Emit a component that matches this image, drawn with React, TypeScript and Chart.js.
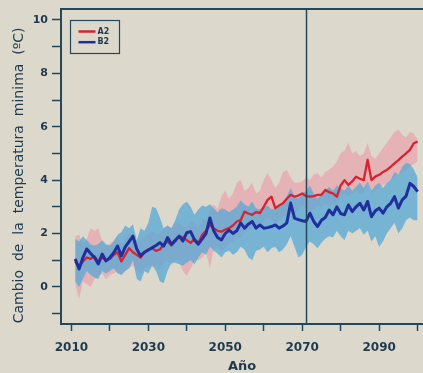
import React, { useEffect, useRef } from 'react';
import { Chart, registerables } from 'chart.js';

Chart.register(...registerables);

// ---- data ----
const YEARS: number[] = Array.from({ length: 90 }, (_, i) => 2011 + i);

const A2_MEAN = [
  0.95, 0.75, 0.95, 1.1, 1.05, 1.15, 0.95, 1.1, 1.0, 1.05,
  1.2, 1.3, 0.95, 1.2, 1.45, 1.3, 1.2, 1.1, 1.3, 1.4,
  1.45, 1.35, 1.4, 1.6, 1.7, 1.55, 1.7, 1.9, 1.85, 1.75,
  1.65, 1.8, 1.64, 1.95, 2.1, 2.32, 2.2, 2.1, 2.07, 2.15,
  2.2, 2.3, 2.45, 2.5, 2.82, 2.75, 2.7, 2.8, 2.76, 3.0,
  3.26, 3.38, 2.95, 3.05, 3.13, 3.3, 3.45, 3.38, 3.42, 3.5,
  3.4, 3.38, 3.4, 3.45, 3.45, 3.63, 3.55, 3.5, 3.38, 3.8,
  4.0, 3.82, 3.95, 4.13, 4.05, 4.0, 4.76, 4.0, 4.13, 4.2,
  4.3, 4.38, 4.5, 4.63, 4.75, 4.88, 5.0, 5.13, 5.38, 5.44,
];
const A2_HIGH = [
  1.9, 1.95, 1.6, 1.8, 2.2, 2.1, 2.2, 1.7, 1.55, 1.6,
  1.75, 1.9, 1.6, 1.8, 2.0, 1.9, 1.7, 1.75, 1.9, 2.0,
  2.1, 1.95, 2.0, 2.2, 2.3, 2.2, 2.4, 2.4, 2.3, 2.2,
  2.5, 2.4, 2.2, 2.6, 2.5, 2.9, 3.1, 2.9, 3.4, 3.6,
  3.3, 3.5, 3.9, 4.0, 3.6, 3.7, 3.9, 3.5, 3.6, 4.0,
  4.26, 4.0, 3.7, 3.9, 4.3, 4.38, 4.1, 3.9, 3.9, 3.95,
  4.1, 4.0, 4.2, 4.26, 4.1, 4.3, 4.4, 4.5, 4.7, 5.0,
  5.1, 5.4, 5.0, 5.1, 4.9, 5.0, 5.4, 4.9, 4.8, 5.0,
  5.2, 5.4, 5.6, 5.8, 5.9, 5.7, 5.6, 5.8, 5.75, 5.5,
];
const A2_LOW = [
  0.1, -0.45, 0.2, 0.1, 0.0, 0.3, 0.4, 0.5, 0.3, 0.45,
  0.5, 0.6, 0.45, 0.6, 0.7, 0.8, 0.6, 0.5, 0.7, 0.8,
  0.75, 0.8, 0.6, 0.9, 1.0, 0.8, 1.0, 0.9, 0.6, 0.4,
  0.7, 1.0, 1.0, 1.1, 1.3, 0.7, 1.4, 1.5, 1.3, 1.5,
  1.6, 1.7, 1.9, 1.8, 2.0, 2.1, 2.2, 2.3, 2.2, 2.4,
  2.6, 2.5, 2.3, 2.5, 2.6, 2.7, 2.8, 2.7, 2.9, 3.0,
  2.9, 2.8, 2.9, 3.0, 3.0, 3.1, 3.0, 3.1, 3.0, 3.4,
  3.5, 3.4, 3.5, 3.6, 3.5, 3.5, 3.9, 3.5, 3.6, 3.7,
  3.8, 3.9, 4.0, 4.1, 4.2, 4.3, 4.4, 4.5, 4.6, 4.7,
];

const B2_MEAN = [
  1.05, 0.67, 1.1, 1.42, 1.25, 1.1, 0.86, 1.23, 0.97, 1.1,
  1.28, 1.53, 1.16, 1.5, 1.7, 1.9, 1.42, 1.16, 1.3, 1.38,
  1.47, 1.55, 1.66, 1.53, 1.85, 1.6, 1.75, 1.9, 1.72, 2.03,
  2.07, 1.76, 1.6, 1.8, 2.0, 2.58, 2.1, 1.85, 1.76, 2.0,
  2.13, 2.0, 2.1, 2.4, 2.2, 2.35, 2.45, 2.2, 2.32, 2.2,
  2.22, 2.26, 2.32, 2.2, 2.28, 2.4, 3.14, 2.58, 2.52, 2.48,
  2.45, 2.76, 2.45, 2.26, 2.5, 2.6, 2.88, 2.7, 3.0, 2.75,
  2.7, 3.07, 2.82, 3.0, 3.13, 2.88, 3.2, 2.63, 2.85, 2.95,
  2.76, 3.0, 3.13, 3.38, 2.95, 3.26, 3.4, 3.88, 3.76, 3.57,
];
const B2_HIGH = [
  1.8, 1.7, 1.9, 1.75, 1.6, 1.55, 1.6, 1.75, 1.6, 1.55,
  1.7, 1.95, 2.05, 2.3, 2.2, 2.35, 1.75, 2.2, 2.1, 2.4,
  3.0, 2.95, 2.6, 2.2, 2.3, 2.2, 2.5, 2.9, 3.1, 3.2,
  3.0, 2.7, 2.9, 3.05, 3.0, 3.1, 2.95, 2.8, 2.95, 2.9,
  2.8, 2.9, 3.0, 3.25, 3.1, 3.0, 3.2, 2.95, 2.9, 3.0,
  3.05, 2.9, 2.95, 3.0, 3.1, 3.4, 3.7, 3.4, 3.3, 3.5,
  3.6, 3.8, 3.5, 3.3, 3.5, 3.6, 3.75, 3.6, 3.8, 3.7,
  3.6, 3.8, 3.6, 3.75, 3.9, 3.7, 3.95, 3.6, 3.8, 3.9,
  3.7, 3.9, 4.0, 4.3, 4.2, 4.5, 4.65, 4.6, 4.4, 4.1,
];
const B2_LOW = [
  0.2, 0.0, 0.3, 0.6, 0.45, 0.35, 0.3, 0.6, 0.5, 0.6,
  0.7, 0.5, 0.45, 0.6, 0.7, 1.0, 0.3, 0.2, 0.6, 0.5,
  0.8, 0.6, 0.2, 0.15, 0.6, 0.9, 0.9, 0.85, 0.8, 0.9,
  1.0, 0.85, 1.1, 1.3, 1.2, 1.5, 1.35, 1.25, 1.1, 1.3,
  1.35, 1.2, 1.3, 1.5, 1.4, 1.1, 1.0, 1.35, 1.4, 1.5,
  1.3, 1.45, 1.5, 1.3, 1.4, 1.6, 1.9, 1.5, 1.1, 1.2,
  1.5, 1.7, 1.6, 1.45, 1.65, 1.8, 1.9, 1.85, 2.1, 1.9,
  1.75, 2.1, 2.0, 2.1, 2.2, 1.95, 2.1, 1.7, 1.9, 1.5,
  1.7, 2.0, 2.2, 2.4, 2.0, 2.2, 2.5, 2.6, 2.5, 2.5,
];

const X_TICKS = [2010, 2020, 2030, 2040, 2050, 2060, 2070, 2080, 2090, 2100];
const X_LABELS = [2010, 2030, 2050, 2070, 2090];
const Y_TICKS = [-1, 0, 1, 2, 3, 4, 5, 6, 7, 8, 9, 10];
const Y_LABELS = [0, 2, 4, 6, 8, 10];
const X_MIN = 2007.3;
const X_MAX = 2101.4;
const Y_MIN = -1.39;
const Y_MAX = 10.41;
const MARK_YEAR = 2071;
const SERIES_NAMES = ['A2', 'B2'];
const X_TITLE = 'Año';
const Y_TITLE = 'Cambio  de  la  temperatura  minima  (ºC)    ';

// ---- styles ----
const BG = '#dcd8cc';
const AXIS = '#24485a';
const TEXT = '#1f3a4e';
const RED = '#d8222f';
const BLUE = '#1f2f9e';
const PINK_BAND = 'rgba(238,145,160,0.52)';
const BLUE_BAND = 'rgba(85,168,215,0.75)';
const FONT = "'DejaVu Sans', sans-serif";

const pts = (arr: number[]) => arr.map((v, i) => ({ x: YEARS[i], y: v }));

const chartPlugin = {
  id: 'customFrame',
  beforeDraw(chart: any) {
    const ctx = chart.ctx;
    ctx.save();
    ctx.fillStyle = BG;
    ctx.fillRect(0, 0, chart.width, chart.height);
    ctx.restore();
  },
  afterDatasetsDraw(chart: any) {
    const ctx = chart.ctx;
    const { top, bottom, left, right } = chart.chartArea;
    const xs = chart.scales.x;
    const xm = Math.round(xs.getPixelForValue(MARK_YEAR)) + 0.5;
    ctx.save();
    ctx.strokeStyle = AXIS;
    ctx.lineWidth = 1.5;
    ctx.beginPath();
    ctx.moveTo(xm, top);
    ctx.lineTo(xm, bottom);
    ctx.stroke();
    ctx.lineWidth = 2;
    ctx.beginPath();
    ctx.moveTo(left - 1, top);
    ctx.lineTo(right + 2, top);
    ctx.stroke();
    ctx.restore();
  },
  afterDraw(chart: any) {
    const ctx = chart.ctx;
    const { top, left } = chart.chartArea;
    const bx = left + 9.5;
    const by = top + 11.5;
    ctx.save();
    ctx.strokeStyle = AXIS;
    ctx.lineWidth = 1.2;
    ctx.strokeRect(bx, by, 49, 33);
    const colors = [RED, BLUE];
    ctx.font = `bold 8px ${FONT}`;
    ctx.textBaseline = 'middle';
    ctx.textAlign = 'left';
    SERIES_NAMES.forEach((name, i) => {
      const ly = by + 11 + i * 10.7;
      ctx.strokeStyle = colors[i];
      ctx.lineWidth = 2.5;
      ctx.beginPath();
      ctx.moveTo(bx + 8, ly);
      ctx.lineTo(bx + 25, ly);
      ctx.stroke();
      ctx.fillStyle = TEXT;
      ctx.fillText(name, bx + 27, ly);
    });
    ctx.restore();
  },
};

export default function App() {
  const ref = useRef<HTMLCanvasElement | null>(null);

  useEffect(() => {
    document.body.style.margin = '0';
    document.body.style.background = BG;
    const canvas = ref.current;
    if (!canvas) return;
    const chart = new Chart(canvas, {
      type: 'line',
      data: {
        datasets: [
          { label: 'A2 high', data: pts(A2_HIGH), borderWidth: 0, pointRadius: 0, backgroundColor: PINK_BAND, fill: '+1', order: 5 },
          { label: 'A2 low', data: pts(A2_LOW), borderWidth: 0, pointRadius: 0, fill: false, order: 5 },
          { label: 'B2 high', data: pts(B2_HIGH), borderWidth: 0, pointRadius: 0, backgroundColor: BLUE_BAND, fill: '+1', order: 3 },
          { label: 'B2 low', data: pts(B2_LOW), borderWidth: 0, pointRadius: 0, fill: false, order: 3 },
          { label: SERIES_NAMES[0], data: pts(A2_MEAN), borderColor: RED, borderWidth: 2.3, pointRadius: 0, fill: false, order: 1, borderJoinStyle: 'round' },
          { label: SERIES_NAMES[1], data: pts(B2_MEAN), borderColor: BLUE, borderWidth: 3, pointRadius: 0, fill: false, order: 0, borderJoinStyle: 'round' },
        ] as any,
      },
      options: {
        animation: false,
        responsive: false,
        devicePixelRatio: 1,
        layout: { padding: { top: 9, right: 0, left: 0, bottom: 0 } },
        plugins: { legend: { display: false }, tooltip: { enabled: false } },
        elements: { line: { tension: 0 } },
        scales: {
          x: {
            type: 'linear',
            min: X_MIN,
            max: X_MAX,
            afterFit: (s: any) => { s.height = 49; s.paddingLeft = 0; s.paddingRight = 0; },
            afterBuildTicks: (s: any) => { s.ticks = X_TICKS.map((v) => ({ value: v })); },
            grid: { display: true, drawOnChartArea: false, drawTicks: true, tickLength: 7, tickColor: AXIS, tickWidth: 1.5 },
            border: { display: true, color: AXIS, width: 2 },
            ticks: {
              autoSkip: false,
              maxRotation: 0,
              padding: 10,
              color: TEXT,
              font: { family: FONT, size: 12, weight: 'bold' },
              callback: (v: any) => (X_LABELS.includes(Number(v)) ? String(v) : ''),
            },
            title: { display: true, text: X_TITLE, color: TEXT, font: { family: FONT, size: 13, weight: 'bold' }, padding: { top: 0, bottom: -1 } },
          },
          y: {
            type: 'linear',
            min: Y_MIN,
            max: Y_MAX,
            afterFit: (s: any) => { s.width = 61; s.paddingTop = 0; s.paddingBottom = 0; },
            afterBuildTicks: (s: any) => { s.ticks = Y_TICKS.map((v) => ({ value: v })); },
            grid: { display: true, drawOnChartArea: false, drawTicks: true, tickLength: 9, tickColor: AXIS, tickWidth: 1.5 },
            border: { display: true, color: AXIS, width: 2 },
            ticks: {
              autoSkip: false,
              padding: 4,
              color: TEXT,
              font: { family: FONT, size: 11, weight: 'bold' },
              callback: (v: any) => (Y_LABELS.includes(Number(v)) ? String(v) : ''),
            },
            title: { display: true, text: Y_TITLE, color: TEXT, font: { family: FONT, size: 14 }, padding: { top: 11, bottom: 0 } },
          },
        },
      } as any,
      plugins: [chartPlugin],
    });
    return () => chart.destroy();
  }, []);

  return (
    <div style={{ width: 423, height: 373, background: BG }}>
      <canvas ref={ref} width={423} height={373} style={{ display: 'block' }} />
    </div>
  );
}
